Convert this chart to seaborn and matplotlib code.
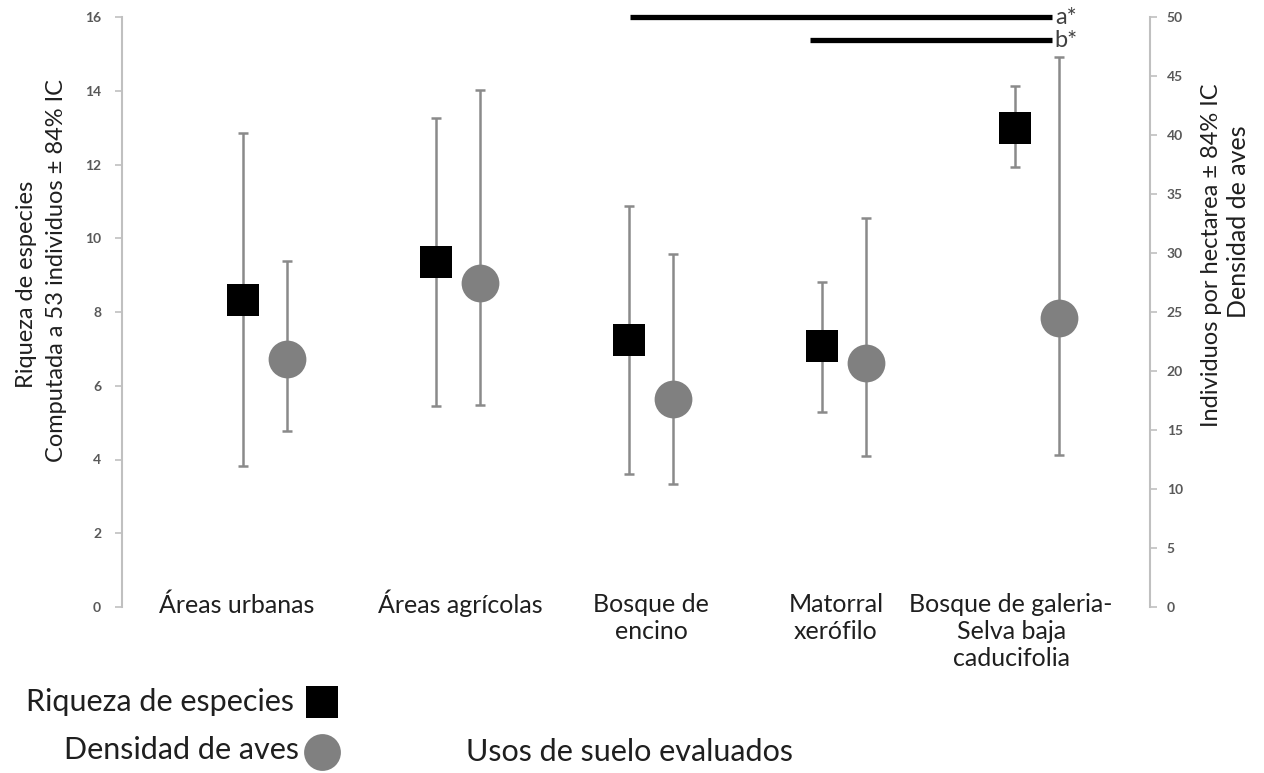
import matplotlib
matplotlib.use("Agg")
import matplotlib.pyplot as plt
from matplotlib.lines import Line2D
import matplotlib.transforms as mtransforms
import numpy as np
import pandas as pd
import seaborn as sns

# Land-use categories
usos = ["Áreas urbanas", "Áreas agrícolas", "Bosque de\nencino",
        "Matorral\nxerófilo", "Bosque de galeria-\nSelva baja\ncaducifolia"]

# Species richness (rarefied to 53 individuals) with 84% CI
riqueza = [8.32, 9.35, 7.25, 7.07, 12.98]
riqueza_sup = [12.85, 13.25, 10.87, 8.82, 14.12]
riqueza_inf = [3.82, 5.45, 3.60, 5.28, 11.93]

# Bird density (individuals per hectare) with 84% CI
densidad = [21.0, 27.5, 17.6, 20.7, 24.5]
densidad_sup = [29.3, 43.8, 29.9, 33.0, 46.6]
densidad_inf = [14.9, 17.1, 10.4, 12.8, 12.9]

# Y-axis ticks
ticks_riqueza = [0, 2, 4, 6, 8, 10, 12, 14, 16]
ticks_densidad = [0, 5, 10, 15, 20, 25, 30, 35, 40, 45, 50]

FONT = "Lato"
sns.set_theme(style="white")
plt.rcParams["font.family"] = [FONT, "DejaVu Sans"]

W, H = 1264, 773
idx = np.arange(len(usos))
off = 0.116
df_r = pd.DataFrame({"x": idx - off, "y": riqueza})
df_d = pd.DataFrame({"x": idx + off, "y": densidad})

fig = plt.figure(figsize=(W / 100, H / 100), dpi=100)
ax = fig.add_axes([122 / W, 1 - 607 / H, (1150 - 122) / W, (607 - 17) / H])
ax2 = ax.twinx()

err_col = "#8a8a8a"
axis_col = "#c0c0c0"
tick_col = "#595959"
text_col = "#1f1f1f"

# richness: error bars + black squares (left axis)
ax.errorbar(df_r["x"], df_r["y"],
            yerr=[np.array(riqueza) - np.array(riqueza_inf),
                  np.array(riqueza_sup) - np.array(riqueza)],
            fmt="none", ecolor=err_col, elinewidth=1.8, capsize=3.6, capthick=1.8, zorder=1)
sns.scatterplot(data=df_r, x="x", y="y", marker="s", s=560, color="black",
                linewidth=0, ax=ax, zorder=3, legend=False)

# density: error bars + grey circles (right axis)
ax2.errorbar(df_d["x"], df_d["y"],
             yerr=[np.array(densidad) - np.array(densidad_inf),
                   np.array(densidad_sup) - np.array(densidad)],
             fmt="none", ecolor=err_col, elinewidth=1.8, capsize=3.6, capthick=1.8, zorder=1)
sns.scatterplot(data=df_d, x="x", y="y", marker="o", s=740, color="#808080",
                linewidth=0, ax=ax2, zorder=3, legend=False)

ax.set_xlim(-0.741, 4.585)
ax.set_ylim(0, 16)
ax2.set_ylim(0, 50)
ax.set_yticks(ticks_riqueza)
ax2.set_yticks(ticks_densidad)
ax.set_xticks(idx)
ax.set_xticklabels(usos, fontsize=18, color=text_col, linespacing=1.2)
ax.tick_params(axis="x", length=0, pad=-10)
# small nudges (pixels) for the category labels
nudges_x = [-28, 2, 0, -8, -26]
nudges_y = [0, 4, 0, 0, 0]
for lab, dx, dy in zip(ax.get_xticklabels(), nudges_x, nudges_y):
    lab.set_transform(lab.get_transform() +
                      mtransforms.ScaledTranslation(dx / 100, dy / 100, fig.dpi_scale_trans))
ax.set_xlabel("")
ax.set_ylabel("")
ax2.set_ylabel("")

for a in (ax, ax2):
    for s in a.spines.values():
        s.set_visible(False)
ax.spines["left"].set_visible(True)
ax.spines["left"].set_color(axis_col)
ax.spines["left"].set_linewidth(1.5)
ax2.spines["right"].set_visible(True)
ax2.spines["right"].set_color(axis_col)
ax2.spines["right"].set_linewidth(1.5)
ax.tick_params(axis="y", length=5, width=1.2, color=axis_col, labelcolor=tick_col,
               labelsize=10, pad=10, left=True)
ax2.tick_params(axis="y", length=5, width=1.2, color=axis_col, labelcolor=tick_col,
                labelsize=10, pad=7, right=True)
for lab in ax.get_yticklabels() + ax2.get_yticklabels():
    lab.set_fontweight("bold")
ax.grid(False)
ax2.grid(False)

# significance bars
ax.plot([2 - 0.109, 4 + 0.078], [16.0, 16.0], color="black", lw=3.8,
        solid_capstyle="butt", clip_on=False, zorder=4)
ax.plot([3 - 0.176, 4 + 0.078], [15.37, 15.37], color="black", lw=3.8,
        solid_capstyle="butt", clip_on=False, zorder=4)
ax.text(4 + 0.092, 16.0, "a*", fontsize=17, color="#404040", va="center", ha="left")
ax.text(4 + 0.092, 15.37, "b*", fontsize=17, color="#404040", va="center", ha="left")

# axis titles
fig.text(27 / W, 1 - 284 / H, "Riqueza de especies", rotation=90,
         fontsize=17, color=text_col, ha="center", va="center")
fig.text(57 / W, 1 - 270 / H, "Computada a 53 individuos ± 84% IC", rotation=90,
         fontsize=17, color=text_col, ha="center", va="center")
fig.text(1212 / W, 1 - 255 / H, "Individuos por hectarea ± 84% IC", rotation=90,
         fontsize=17, color=text_col, ha="center", va="center")
fig.text(1238 / W, 1 - 222 / H, "Densidad de aves", rotation=90,
         fontsize=18, color=text_col, ha="center", va="center")
fig.text(630 / W, 1 - 752 / H, "Usos de suelo evaluados",
         fontsize=22, color=text_col, ha="center", va="center")

# legend
fig.text(294 / W, 1 - 702 / H, "Riqueza de especies", fontsize=22,
         color=text_col, ha="right", va="center")
fig.text(299 / W, 1 - 750 / H, "Densidad de aves", fontsize=22,
         color=text_col, ha="right", va="center")
fig.add_artist(Line2D([322 / W], [1 - 702 / H], marker="s", markersize=23.5,
                      color="black", markeredgewidth=0, transform=fig.transFigure))
fig.add_artist(Line2D([322 / W], [1 - 752 / H], marker="o", markersize=26.5,
                      color="#808080", markeredgewidth=0, transform=fig.transFigure))

fig.savefig("out.png", dpi=100)
